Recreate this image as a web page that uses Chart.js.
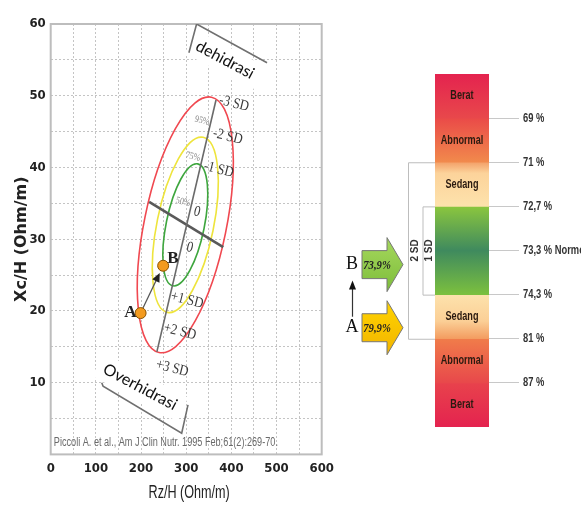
<!DOCTYPE html>
<html><head><meta charset="utf-8">
<script src="https://cdn.jsdelivr.net/npm/chart.js@4"></script>
<style>
html,body{margin:0;padding:0;background:#fff;}
#wrap{position:relative;width:581px;height:507px;overflow:hidden;background:#fff;}
#c1{position:absolute;left:0;top:0;}
#c2{position:absolute;left:330px;top:0;}
</style></head><body>
<div id="wrap">
<canvas id="c1" width="345" height="507"></canvas>
<canvas id="c2" width="251" height="507"></canvas>
</div>
<script>
// ---------- DATA: left RXc graph ----------
const pointNames = ['A', 'B'];
const pointRz = [199, 249];
const pointXc = [19.7, 26.3];
const ellipseNames = ['95%', '75%', '50%'];
const ellipseCenter = [298, 32];
const ellipseMajor = [[58.0, 17.8], [39.6, 12.2], [27.6, 8.5]];
const ellipseMinor = [[89.0, -1.15], [61.4, -0.79], [41.4, -0.54]];
const sdAxisRz = [235, 366];
const sdAxisXc = [14.3, 49.4];
const crossRz = [218, 382];
const crossXc = [35.2, 28.9];
const sdLabelText = ['-3 SD', '-2 SD', '-1 SD', '0', '0', '+1 SD', '+2 SD', '+3 SD'];
const sdLabelRz = [406, 392, 372, 324, 308, 302, 286, 269];
const sdLabelXc = [48.9, 44.3, 39.7, 33.8, 28.8, 21.5, 17.1, 12.0];
const pctLabelRz = [335, 315, 293];
const pctLabelXc = [46.5, 41.5, 35.2];
const dehidrasiRz = [306, 323, 479];
const dehidrasiXc = [56.0, 60.0, 54.6];
const overRz = [113, 116, 290, 304];
const overXc = [10.0, 9.5, 2.95, 6.9];
const zoneNames = ['dehidrasi', 'Overhidrasi'];
const zoneRz = [386, 198];
const zoneXc = [55.0, 9.4];
const xAxisTitle = 'Rz/H (Ohm/m)';
const yAxisTitle = 'Xc/H (Ohm/m)';
const citation = 'Piccoli A. et al., Am J Clin Nutr. 1995 Feb;61(2):269-70.';
const citationRz = 7;
const citationXc = 1.7;

// ---------- DATA: right hydration scale ----------
const bandNames = ['Berat', 'Abnormal', 'Sedang', '', 'Sedang', 'Abnormal', 'Berat'];
const bandSizes = [1, 1, 1, 2, 1, 1, 1];
const hydrationTickPos = [1, 2, 3, 4, 5, 6, 7];
const hydrationTickLabels = ['69 %', '71 %', '72,7 %', '73,3 % Normo', '74,3 %', '81 %', '87 %'];
const sdBracketNames = ['2 SD', '1 SD'];
const sdBracketFrom = [2, 3];
const sdBracketTo = [6, 5];
const arrowNames = ['B', 'A'];
const arrowValues = ['73,9%', '79,9%'];
const arrowPos = [4.32, 5.75];

// ---------- STYLES ----------
const SANS = "'Liberation Sans',Arial,sans-serif";
const COND = "'DejaVu Sans Condensed','Liberation Sans Narrow','DejaVu Sans',sans-serif";
const SERIF = "'Liberation Serif','DejaVu Serif',serif";
const ellipseColors = ['#f04850', '#eee43c', '#3ea63e'];
const bandStops = [
  [[0, '#e4234f'], [1, '#e8484b']],
  [[0, '#ea4a48'], [1, '#f18a4c']],
  [[0, '#f3a068'], [0.25, '#fcd39b'], [1, '#fde2ac']],
  [[0, '#8bc63e'], [0.5, '#3f8a5e'], [1, '#7cc03e']],
  [[0, '#fde2ac'], [0.6, '#fbcf96'], [1, '#f39c60']],
  [[0, '#f07c4a'], [1, '#e8484b']],
  [[0, '#e8424c'], [1, '#e4234f']]
];
const arrowFills = [['#a6d85e', '#7dbd3a'], ['#ffd400', '#f2b400']];

function narrowText(ctx, text, x, y, sx) {
  ctx.save(); ctx.translate(x, y); ctx.scale(sx, 1); ctx.fillText(text, 0, 0); ctx.restore();
}

// ---------- LEFT CHART ----------
const toXY = (xs, ys) => xs.map((x, i) => ({ x: x, y: ys[i] }));

const leftPlugin = {
  id: 'leftDecor',
  beforeDatasetsDraw(chart) {
    const ctx = chart.ctx, xs = chart.scales.x, ys = chart.scales.y, ca = chart.chartArea;
    ctx.save();
    ctx.strokeStyle = '#bdbdbd'; ctx.lineWidth = 2;
    ctx.strokeRect(ca.left, ca.top, ca.right - ca.left, ca.bottom - ca.top);
    ctx.restore();
    // white boxes behind zone labels
    ctx.save();
    ctx.font = "16px Lato, 'Open Sans', sans-serif";
    zoneNames.forEach((t, i) => {
      const px = xs.getPixelForValue(zoneRz[i]), py = ys.getPixelForValue(zoneXc[i]);
      const w = ctx.measureText(t).width + 14;
      ctx.save(); ctx.translate(px, py); ctx.rotate(28 * Math.PI / 180);
      ctx.fillStyle = '#fff'; ctx.fillRect(-w / 2, -13, w, 26);
      ctx.restore();
    });
    ctx.restore();
    // ellipses
    const cx = xs.getPixelForValue(ellipseCenter[0]), cy = ys.getPixelForValue(ellipseCenter[1]);
    ellipseNames.forEach((n, i) => {
      const ux = xs.getPixelForValue(ellipseCenter[0] + ellipseMajor[i][0]) - cx;
      const uy = ys.getPixelForValue(ellipseCenter[1] + ellipseMajor[i][1]) - cy;
      const vx = xs.getPixelForValue(ellipseCenter[0] + ellipseMinor[i][0]) - cx;
      const vy = ys.getPixelForValue(ellipseCenter[1] + ellipseMinor[i][1]) - cy;
      ctx.save();
      ctx.beginPath();
      ctx.save();
      ctx.transform(ux, uy, vx, vy, cx, cy);
      ctx.arc(0, 0, 1, 0, Math.PI * 2);
      ctx.restore();
      ctx.strokeStyle = ellipseColors[i]; ctx.lineWidth = 1.6;
      ctx.stroke();
      ctx.restore();
    });
    // arrow A -> B
    const ax = xs.getPixelForValue(pointRz[0]), ay = ys.getPixelForValue(pointXc[0]);
    const bx = xs.getPixelForValue(pointRz[1]), by = ys.getPixelForValue(pointXc[1]);
    const len = Math.hypot(bx - ax, by - ay), dx = (bx - ax) / len, dy = (by - ay) / len;
    const tx = ax + dx * (len - 8), ty = ay + dy * (len - 8);
    ctx.save();
    ctx.strokeStyle = '#555'; ctx.lineWidth = 1.2;
    ctx.beginPath(); ctx.moveTo(ax, ay); ctx.lineTo(tx - dx * 6, ty - dy * 6); ctx.stroke();
    ctx.fillStyle = '#222';
    ctx.beginPath(); ctx.moveTo(tx, ty);
    ctx.lineTo(tx - dx * 9 - dy * 4, ty - dy * 9 + dx * 4);
    ctx.lineTo(tx - dx * 9 + dy * 4, ty - dy * 9 - dx * 4);
    ctx.closePath(); ctx.fill();
    ctx.restore();
  },
  afterDatasetsDraw(chart) {
    const ctx = chart.ctx, xs = chart.scales.x, ys = chart.scales.y, ca = chart.chartArea;
    ctx.save();
    ctx.textAlign = 'center'; ctx.textBaseline = 'middle';
    sdLabelText.forEach((t, i) => {
      const px = xs.getPixelForValue(sdLabelRz[i]), py = ys.getPixelForValue(sdLabelXc[i]);
      ctx.save(); ctx.translate(px, py); ctx.rotate(14 * Math.PI / 180); ctx.scale(0.85, 1);
      ctx.font = '15px ' + SERIF; ctx.fillStyle = '#3a3a3a';
      ctx.fillText(t, 0, 0); ctx.restore();
    });
    ellipseNames.forEach((t, i) => {
      const px = xs.getPixelForValue(pctLabelRz[i]), py = ys.getPixelForValue(pctLabelXc[i]);
      ctx.save(); ctx.translate(px, py); ctx.rotate(14 * Math.PI / 180); ctx.scale(0.8, 1);
      ctx.font = '10px ' + SERIF; ctx.fillStyle = '#888';
      ctx.fillText(t, 0, 0); ctx.restore();
    });
    zoneNames.forEach((t, i) => {
      const px = xs.getPixelForValue(zoneRz[i]), py = ys.getPixelForValue(zoneXc[i]);
      ctx.save(); ctx.translate(px, py); ctx.rotate(28 * Math.PI / 180);
      ctx.font = "16px Lato, 'Open Sans', sans-serif"; ctx.fillStyle = '#111';
      ctx.fillText(t, 0, 0); ctx.restore();
    });
    ctx.font = 'bold 17px ' + SERIF; ctx.fillStyle = '#222';
    const ax = xs.getPixelForValue(pointRz[0]), ay = ys.getPixelForValue(pointXc[0]);
    const bx = xs.getPixelForValue(pointRz[1]), by = ys.getPixelForValue(pointXc[1]);
    ctx.textAlign = 'right'; ctx.fillText(pointNames[0], ax - 4, ay);
    ctx.textAlign = 'left'; ctx.fillText(pointNames[1], bx + 4, by - 7);
    ctx.font = '12px ' + SANS; ctx.fillStyle = '#6a6a6a'; ctx.textAlign = 'left';
    narrowText(ctx, citation, xs.getPixelForValue(citationRz), ys.getPixelForValue(citationXc), 0.76);
    ctx.font = '18px ' + SANS; ctx.fillStyle = '#222'; ctx.textAlign = 'center';
    narrowText(ctx, xAxisTitle, (ca.left + ca.right) / 2 + 3, 493, 0.7);
    ctx.restore();
  }
};

new Chart(document.getElementById('c1'), {
  type: 'scatter',
  data: {
    datasets: [
      { data: toXY(sdAxisRz, sdAxisXc), showLine: true, borderColor: '#6a6a6a', borderWidth: 1.6, pointRadius: 0 },
      { data: toXY(crossRz, crossXc), showLine: true, borderColor: '#5a5a5a', borderWidth: 2.6, pointRadius: 0 },
      { data: toXY(dehidrasiRz, dehidrasiXc), showLine: true, borderColor: '#707070', borderWidth: 1.6, pointRadius: 0 },
      { data: toXY(overRz, overXc), showLine: true, borderColor: '#707070', borderWidth: 1.6, pointRadius: 0 },
      { data: toXY(pointRz, pointXc), backgroundColor: '#f39a1e', borderColor: '#8a5200', borderWidth: 1, pointRadius: 5.5 }
    ]
  },
  options: {
    responsive: false, animation: false,
    layout: { padding: { top: 24, right: 23.3, left: 0, bottom: 0 } },
    plugins: { legend: { display: false }, tooltip: { enabled: false } },
    scales: {
      x: {
        type: 'linear', min: 0, max: 600,
        ticks: { stepSize: 50, autoSkip: false, maxRotation: 0, padding: 6, color: '#222',
          font: { family: COND, size: 13, weight: 'bold' },
          callback: v => (v % 100 === 0 ? String(v) : '') },
        grid: { color: '#c4c4c4', drawTicks: false },
        border: { display: false, dash: [2, 2] },
        title: { display: false, text: xAxisTitle },
        afterFit: s => { s.height = 52.6; }
      },
      y: {
        type: 'linear', min: 0, max: 60,
        ticks: { stepSize: 5, autoSkip: false, padding: 5, color: '#222',
          font: { family: COND, size: 13, weight: 'bold' },
          callback: v => (v % 10 === 0 && v !== 0 ? String(v) : '') },
        grid: { color: '#c4c4c4', drawTicks: false },
        border: { display: false, dash: [2, 2] },
        title: { display: true, text: yAxisTitle, color: '#222', padding: { top: 12, bottom: 0 },
          font: { family: "'DejaVu Sans',sans-serif", size: 16, weight: 'bold' } },
        afterFit: s => { s.width = 50.7; }
      }
    }
  },
  plugins: [leftPlugin]
});

// ---------- RIGHT CHART ----------
const bandStart = bandSizes.map((s, i) => bandSizes.slice(0, i).reduce((a, b) => a + b, 0));

const rightPlugin = {
  id: 'rightDecor',
  afterDatasetsDraw(chart) {
    const ctx = chart.ctx, ys = chart.scales.y, ca = chart.chartArea;
    ctx.save();
    ctx.textAlign = 'center'; ctx.textBaseline = 'middle';
    ctx.font = 'bold 12px ' + SANS; ctx.fillStyle = '#2a1a10';
    bandNames.forEach((n, i) => {
      if (!n) return;
      const el = chart.getDatasetMeta(i).data[0];
      const p = el.getProps(['x', 'y', 'base'], true);
      narrowText(ctx, n, p.x, (p.y + p.base) / 2, 0.76);
    });
    ctx.textAlign = 'left'; ctx.font = 'bold 13px ' + SANS; ctx.fillStyle = '#333';
    ys.ticks.forEach((t, i) => {
      narrowText(ctx, hydrationTickLabels[i], ca.right + 34, ys.getPixelForValue(t.value), 0.72);
    });
    ctx.textAlign = 'center';
    ctx.strokeStyle = '#bdbdbd'; ctx.lineWidth = 1;
    const bx = [78, 92.5];
    sdBracketNames.forEach((n, i) => {
      const y1 = ys.getPixelForValue(sdBracketFrom[i]), y2 = ys.getPixelForValue(sdBracketTo[i]);
      ctx.beginPath();
      ctx.moveTo(ca.left, y1 + 0.5); ctx.lineTo(bx[i] + 0.5, y1 + 0.5);
      ctx.lineTo(bx[i] + 0.5, y2 + 0.5); ctx.lineTo(ca.left, y2 + 0.5);
      ctx.stroke();
      ctx.save();
      ctx.translate(bx[i] + 7, (y1 + y2) / 2); ctx.rotate(-Math.PI / 2);
      ctx.font = 'bold 10px ' + SANS; ctx.fillStyle = '#333';
      ctx.fillText(n, 0, 0);
      ctx.restore();
    });
    arrowNames.forEach((n, i) => {
      const cy = ys.getPixelForValue(arrowPos[i]);
      const L = 32, HB = 57, T = 73, bh = 14, hh = 27;
      const g = ctx.createLinearGradient(0, cy - hh, 0, cy + hh);
      g.addColorStop(0, arrowFills[i][0]); g.addColorStop(1, arrowFills[i][1]);
      ctx.beginPath();
      ctx.moveTo(L, cy - bh); ctx.lineTo(HB, cy - bh); ctx.lineTo(HB, cy - hh);
      ctx.lineTo(T, cy); ctx.lineTo(HB, cy + hh); ctx.lineTo(HB, cy + bh);
      ctx.lineTo(L, cy + bh); ctx.closePath();
      ctx.fillStyle = g; ctx.fill();
      ctx.strokeStyle = '#777'; ctx.lineWidth = 1; ctx.stroke();
      ctx.font = 'italic bold 13px ' + SERIF; ctx.fillStyle = '#222';
      narrowText(ctx, arrowValues[i], 47, cy + 1, 0.82);
      ctx.font = '18px ' + SERIF; ctx.fillStyle = '#111';
      ctx.fillText(n, 22, cy);
    });
    const yA = ys.getPixelForValue(arrowPos[1]), yB = ys.getPixelForValue(arrowPos[0]);
    ctx.strokeStyle = '#333'; ctx.lineWidth = 1.2;
    ctx.beginPath(); ctx.moveTo(22.5, yA - 11); ctx.lineTo(22.5, yB + 24); ctx.stroke();
    ctx.fillStyle = '#111';
    ctx.beginPath(); ctx.moveTo(22.5, yB + 16); ctx.lineTo(19, yB + 25); ctx.lineTo(26, yB + 25); ctx.closePath(); ctx.fill();
    ctx.restore();
  }
};

new Chart(document.getElementById('c2'), {
  type: 'bar',
  data: {
    labels: [''],
    datasets: bandSizes.map((s, i) => ({
      label: bandNames[i],
      data: [s],
      barPercentage: 1, categoryPercentage: 1, borderWidth: 0,
      backgroundColor: (c) => {
        const chart = c.chart;
        if (!chart.chartArea) return bandStops[i][0][1];
        const ys = chart.scales.y;
        const g = chart.ctx.createLinearGradient(0, ys.getPixelForValue(bandStart[i]), 0, ys.getPixelForValue(bandStart[i] + s));
        bandStops[i].forEach(st => g.addColorStop(st[0], st[1]));
        return g;
      }
    }))
  },
  options: {
    responsive: false, animation: false,
    layout: { padding: { top: 74, left: 105, right: 0, bottom: 80 } },
    plugins: { legend: { display: false }, tooltip: { enabled: false } },
    scales: {
      x: { display: false, stacked: true },
      y: {
        stacked: true, min: 0, max: 8, reverse: true, position: 'right',
        afterBuildTicks: s => { s.ticks = hydrationTickPos.map(v => ({ value: v })); },
        afterFit: s => { s.width = 92; },
        ticks: { display: false, callback: (v, idx) => hydrationTickLabels[idx] },
        grid: { drawOnChartArea: false, drawTicks: true, tickLength: 30, color: '#c8c8c8' },
        border: { display: false }
      }
    }
  },
  plugins: [rightPlugin]
});
</script>
</body></html>
